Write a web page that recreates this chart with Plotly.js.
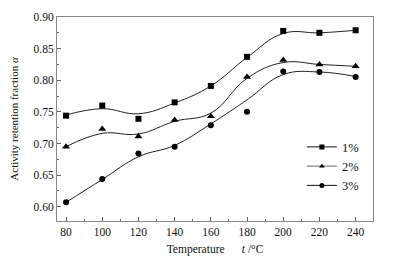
<!DOCTYPE html>
<html>
<head>
<meta charset="utf-8">
<script src="https://cdn.plot.ly/plotly-3.0.1.min.js"></script>
<style>html,body{margin:0;padding:0;background:#fff;}#chart{width:398px;height:261px;}</style>
</head>
<body>
<div id="chart"></div>
<script>
// Temperatures (°C)
const temps = [80, 100, 120, 140, 160, 180, 200, 220, 240];
// Measured activity retention fraction
const s1 = [0.744, 0.760, 0.739, 0.765, 0.791, 0.837, 0.878, 0.875, 0.879];
const s2 = [0.695, 0.723, 0.711, 0.737, 0.743, 0.805, 0.832, 0.825, 0.822];
const s3 = [0.607, 0.644, 0.684, 0.695, 0.729, 0.750, 0.814, 0.813, 0.805];
// Smooth fitted curves at the same temperatures
const fit1 = [0.745, 0.755, 0.747, 0.764, 0.791, 0.836, 0.874, 0.875, 0.879];
const fit2 = [0.695, 0.716, 0.715, 0.735, 0.748, 0.803, 0.828, 0.825, 0.822];
const fit3 = [0.607, 0.643, 0.679, 0.697, 0.731, 0.769, 0.809, 0.813, 0.806];
const names = ['1%', '2%', '3%'];
const symbols = ['square', 'triangle-up', 'circle'];

const series = [s1, s2, s3];
const fits = [fit1, fit2, fit3];
const traces = [];
for (let i = 0; i < 3; i++) {
  traces.push({x: temps, y: fits[i], mode: 'lines', line: {shape: 'spline', smoothing: 1.2, color: '#222', width: 1},
    showlegend: false, hoverinfo: 'skip'});
  traces.push({x: temps, y: series[i], mode: 'markers', name: names[i],
    marker: {symbol: symbols[i], size: i === 1 ? 7 : 6, color: '#000'}, showlegend: false});
  traces.push({x: [null], y: [null], mode: 'lines+markers', name: names[i],
    line: {color: i === 1 ? '#666' : '#111', width: 1},
    marker: {symbol: symbols[i], size: 5, color: '#000'}});
}

const font = {family: '"Liberation Serif", "Times New Roman", serif', color: '#111'};
const layout = {
  width: 398, height: 261,
  margin: {l: 57, r: 25, t: 17, b: 40},
  paper_bgcolor: '#fff', plot_bgcolor: '#fff',
  font: Object.assign({size: 12}, font),
  showlegend: true,
  legend: {x: 0.775, y: 0.435, xanchor: 'left', yanchor: 'top', bgcolor: 'rgba(0,0,0,0)',
    font: Object.assign({size: 12.5}, font), itemwidth: 30, tracegroupgap: 0},
  xaxis: {
    range: [75, 249.6], tickvals: temps, ticktext: temps.map(String),
    ticks: 'inside', ticklen: 4, tickcolor: '#666', showline: true, linecolor: '#888', linewidth: 1,
    mirror: true, showgrid: false, zeroline: false,
    tickfont: Object.assign({size: 11.5}, font),
    minor: {dtick: 10, tick0: 70, ticks: 'inside', ticklen: 2, tickcolor: '#666', showgrid: false},
    title: {text: 'Temperature      <i>t</i> /°C', font: Object.assign({size: 11.5}, font), standoff: 8}
  },
  yaxis: {
    range: [0.5774, 0.90], dtick: 0.05, tick0: 0.6, tickformat: '.2f',
    ticks: 'inside', ticklen: 4, tickcolor: '#666', showline: true, linecolor: '#888', linewidth: 1,
    mirror: true, showgrid: false, zeroline: false,
    tickfont: Object.assign({size: 11.5}, font),
    minor: {dtick: 0.025, tick0: 0.6, ticks: 'inside', ticklen: 2, tickcolor: '#666', showgrid: false},
    title: {text: 'Activity retention fraction <i>α</i>', font: Object.assign({size: 11}, font), standoff: 12}
  }
};
Plotly.newPlot('chart', traces, layout, {displayModeBar: false, staticPlot: true});
</script>
</body>
</html>
